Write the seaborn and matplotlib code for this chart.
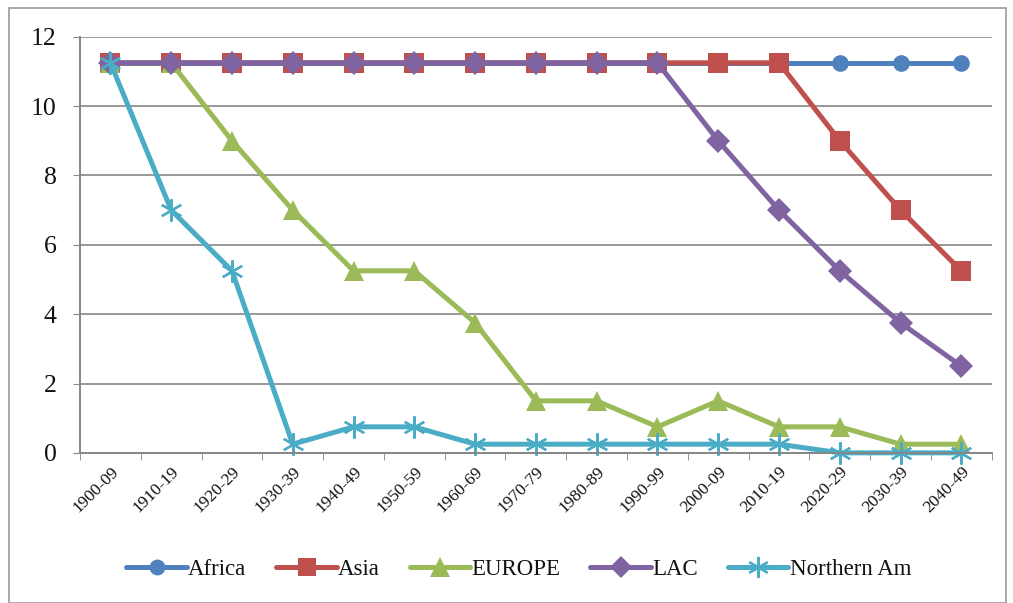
import pandas as pd
import matplotlib.pyplot as plt
import matplotlib.patches as mpatches
from matplotlib.lines import Line2D
import seaborn as sns

decades = ["1900-09", "1910-19", "1920-29", "1930-39", "1940-49", "1950-59",
           "1960-69", "1970-79", "1980-89", "1990-99", "2000-09", "2010-19",
           "2020-29", "2030-39", "2040-49"]
africa = [11.25] * 15
asia = [11.25, 11.25, 11.25, 11.25, 11.25, 11.25, 11.25, 11.25, 11.25, 11.25,
        11.25, 11.25, 9, 7, 5.25]
europe = [11.25, 11.25, 9, 7, 5.25, 5.25, 3.75, 1.5, 1.5, 0.75, 1.5, 0.75,
          0.75, 0.25, 0.25]
lac = [11.25, 11.25, 11.25, 11.25, 11.25, 11.25, 11.25, 11.25, 11.25, 11.25,
       9, 7, 5.25, 3.75, 2.5]
northern_am = [11.25, 7, 5.25, 0.25, 0.75, 0.75, 0.25, 0.25, 0.25, 0.25,
               0.25, 0.25, 0, 0, 0]

series = ["Africa", "Asia", "EUROPE", "LAC", "Northern Am"]
colors = {"Africa": "#4F81BD", "Asia": "#C0504D", "EUROPE": "#9BBB59",
          "LAC": "#8064A2", "Northern Am": "#4BACC6"}
# asterisk for Northern Am is applied after drawing (seaborn won't mix filled/line markers)
markers = {"Africa": "o", "Asia": "s", "EUROPE": "^", "LAC": "D",
           "Northern Am": "X"}
final_markers = dict(markers, **{"Northern Am": (6, 2, 0)})
sizes = {"Africa": 12, "Asia": 14, "EUROPE": 15, "LAC": 12, "Northern Am": 16}

rows = []
for name, vals in zip(series, [africa, asia, europe, lac, northern_am]):
    for i, v in enumerate(vals):
        rows.append({"pos": i, "decade": decades[i], "region": name, "value": v})
df = pd.DataFrame(rows)

sns.set_style("white")
plt.rcParams["font.family"] = ["Liberation Serif", "DejaVu Serif"]

fig = plt.figure(figsize=(10.13, 6.03), dpi=100)
ax = fig.add_axes([0.079, 0.249, 0.900, 0.690])

sns.lineplot(data=df, x="pos", y="value", hue="region", style="region",
             hue_order=series, style_order=series, palette=colors,
             markers=markers, dashes=False, linewidth=3.6, ax=ax, legend=False)

for line, name in zip(ax.get_lines(), series):
    line.set_marker(final_markers[name])
    line.set_markersize(sizes[name])
    line.set_markeredgecolor(colors[name])
    line.set_markerfacecolor(colors[name])
    line.set_markeredgewidth(1.6 if name == "Northern Am" else 0)
    line.set_clip_on(False)

ax.set_xlim(-0.5, len(decades) - 0.5)
ax.set_ylim(0, 12)
ax.set_yticks(range(0, 13, 2))
ax.set_xticks(range(len(decades)))
ax.set_xticklabels(decades, rotation=45, ha="right", rotation_mode="anchor",
                   fontsize=12.5)
ax.tick_params(axis="x", length=0, pad=8, labelcolor="#111111")
ax.tick_params(axis="y", labelsize=18.5, length=5, color="#868686", left=True,
               labelcolor="#111111", pad=12)
ax.set_xticks([i - 0.5 for i in range(len(decades) + 1)], minor=True)
ax.tick_params(axis="x", which="minor", length=5, color="#868686", bottom=True)
ax.set_xlabel("")
ax.set_ylabel("")
ax.yaxis.grid(True, color="#868686", linewidth=1.2)
ax.set_axisbelow(True)
for side in ["top", "right"]:
    ax.spines[side].set_visible(False)
for side in ["left", "bottom"]:
    ax.spines[side].set_color("#868686")
    ax.spines[side].set_linewidth(1.4)

handles = [Line2D([0], [0], color=colors[n], marker=final_markers[n], linewidth=3.6,
                  markersize=sizes[n] * 0.95, markeredgecolor=colors[n],
                  markeredgewidth=1.6 if n == "Northern Am" else 0)
           for n in series]
fig.legend(handles, series, loc="center", bbox_to_anchor=(0.512, 0.056),
           ncol=5, frameon=False, fontsize=16.5, handlelength=2.65,
           columnspacing=1.3, handletextpad=0.05,
           labelcolor="#111111")

fig.patches.append(mpatches.Rectangle((0.009, 0.0), 0.984, 0.986,
                                      transform=fig.transFigure, fill=False,
                                      edgecolor="#9a9a9a", linewidth=1.2))

fig.savefig("out.png", dpi=100)
